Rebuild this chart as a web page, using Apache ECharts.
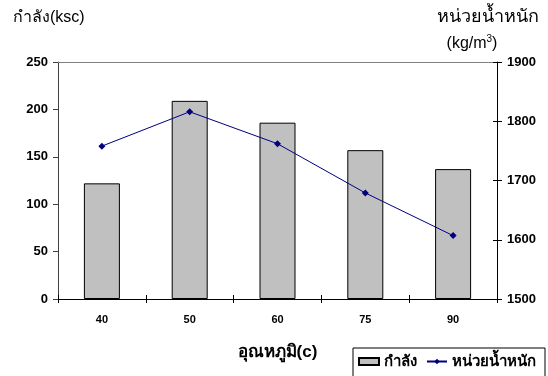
<!DOCTYPE html>
<html>
<head>
<meta charset="utf-8">
<script src="https://cdn.jsdelivr.net/npm/echarts@6/dist/echarts.min.js"></script>
<style>
  html, body { margin: 0; padding: 0; background: #fff; }
  #chart { width: 548px; height: 376px; }
</style>
</head>
<body>
<div id="chart"></div>
<script>
// Temperature categories (°C)
const temperatures = ['40', '50', '60', '75', '90'];
// Compressive strength (ksc)
const strength = [122, 209, 186, 157, 137];
// Unit weight (kg/m3)
const unitWeight = [1758, 1816, 1762, 1679, 1607];

const FONT = '"Liberation Sans", Arial, "Noto Sans", sans-serif';

const chart = echarts.init(document.getElementById('chart'), null, { renderer: 'canvas' });

chart.setOption({
  backgroundColor: '#ffffff',
  animation: false,
  textStyle: { fontFamily: FONT, color: '#000' },
  grid: { left: 58, right: 51, top: 62, bottom: 77 },
  legend: {
    left: 353,
    top: 348,
    orient: 'horizontal',
    borderColor: '#000',
    borderWidth: 1,
    borderRadius: 0,
    padding: [6, 9, 14, 5],
    itemGap: 9,
    itemWidth: 20,
    itemHeight: 7,
    textStyle: { fontFamily: FONT, fontWeight: 'bold', fontSize: 15, color: '#000' },
    data: [
      { name: 'กำลัง', icon: 'rect' },
      { name: 'หน่วยน้ำหนัก' }
    ]
  },
  xAxis: [
    {
      type: 'category',
      data: temperatures,
      position: 'bottom',
      boundaryGap: true,
      axisLine: { lineStyle: { color: '#000', width: 1 } },
      axisTick: { show: true, inside: false, length: 4, lineStyle: { color: '#000' } },
      axisLabel: { fontSize: 11, fontWeight: 'bold', color: '#000', margin: 15, fontFamily: FONT },
      name: 'อุณหภูมิ(c)',
      nameLocation: 'middle',
      nameGap: 45,
      nameTextStyle: { fontSize: 17, fontWeight: 'bold', color: '#000', fontFamily: FONT }
    },
    {
      // inner half of the crossing tick marks
      type: 'category',
      data: temperatures,
      position: 'bottom',
      axisLine: { show: false },
      axisTick: { show: true, inside: true, length: 4, lineStyle: { color: '#000' } },
      axisLabel: { show: false }
    },
    {
      // top border of the plot area
      type: 'category',
      data: temperatures,
      position: 'top',
      axisLine: { lineStyle: { color: '#808080', width: 1 } },
      axisTick: { show: false },
      axisLabel: { show: false }
    }
  ],
  yAxis: [
    {
      type: 'value',
      position: 'left',
      min: 0, max: 250, interval: 50,
      splitLine: { show: false },
      axisLine: { show: true, lineStyle: { color: '#404040', width: 1 } },
      axisTick: { show: true, length: 5, lineStyle: { color: '#404040' } },
      axisLabel: { fontSize: 13, fontWeight: 'bold', color: '#000', margin: 10, fontFamily: FONT }
    },
    {
      type: 'value',
      position: 'right',
      min: 1500, max: 1900, interval: 100,
      splitLine: { show: false },
      axisLine: { show: true, lineStyle: { color: '#000', width: 1 } },
      axisTick: { show: true, length: 5, lineStyle: { color: '#000' } },
      axisLabel: {
        fontSize: 13, fontWeight: 'bold', color: '#000', margin: 10, fontFamily: FONT,
        formatter: v => String(v)
      }
    },
    {
      // inner half of the crossing tick marks on the right
      type: 'value',
      position: 'right',
      min: 1500, max: 1900, interval: 100,
      splitLine: { show: false },
      axisLine: { show: false },
      axisTick: { show: true, inside: true, length: 4, lineStyle: { color: '#000' } },
      axisLabel: { show: false }
    }
  ],
  graphic: [
    {
      type: 'text', left: 13, top: 10,
      style: { text: 'กำลัง(ksc)', fontSize: 16, fontFamily: FONT, fill: '#000' }
    },
    {
      type: 'text', x: 488, y: 8,
      style: { text: 'หน่วยน้ำหนัก', fontSize: 18, fontFamily: FONT, fill: '#000', textAlign: 'center' }
    },
    {
      type: 'text', x: 472, y: 34,
      style: {
        text: '(kg/m{sup|3})',
        textAlign: 'center',
        fontSize: 16, fontFamily: FONT, fill: '#000',
        rich: { sup: { fontSize: 10, fontFamily: FONT, fill: '#000', verticalAlign: 'top', padding: [0, 0, 9, 0] } }
      }
    }
  ],
  series: [
    {
      name: 'กำลัง',
      type: 'bar',
      xAxisIndex: 0,
      yAxisIndex: 0,
      data: strength,
      barWidth: 36,
      itemStyle: { color: '#c0c0c0', borderColor: '#000', borderWidth: 1 }
    },
    {
      name: 'หน่วยน้ำหนัก',
      type: 'line',
      xAxisIndex: 0,
      yAxisIndex: 1,
      data: unitWeight,
      symbol: 'diamond',
      symbolSize: 7,
      lineStyle: { color: '#000080', width: 1 },
      itemStyle: { color: '#000080' }
    }
  ]
});
</script>
</body>
</html>
